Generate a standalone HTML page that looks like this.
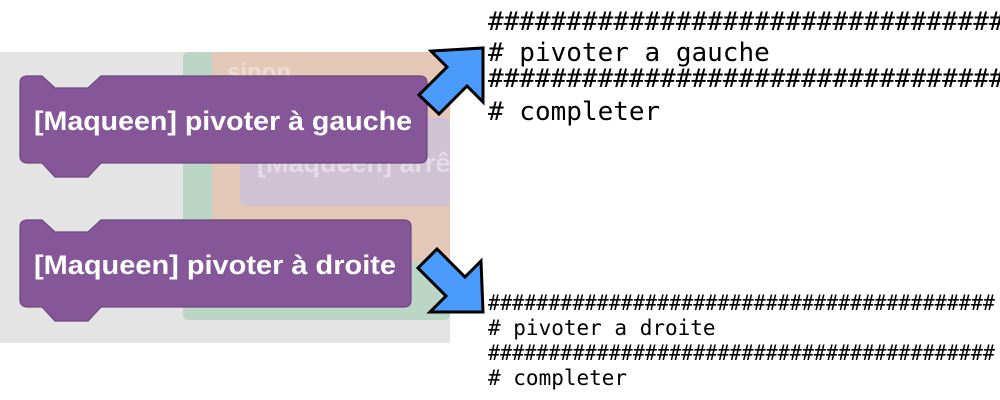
<!DOCTYPE html>
<html><head><meta charset="utf-8"><style>
html,body{margin:0;padding:0;background:#fff;width:1000px;height:400px;overflow:hidden}
svg{display:block}
.b{font-family:"Liberation Sans",sans-serif;font-weight:bold;fill:#fff;font-size:27px}
.m{font-family:"DejaVu Sans Mono","Liberation Mono",monospace;fill:#000}
</style></head><body>
<svg width="1000" height="400" viewBox="0 0 1000 400" xmlns="http://www.w3.org/2000/svg">
<rect x="0" y="52" width="450" height="291" fill="#e4e4e4"/>
<rect x="183" y="52" width="267" height="268" rx="5" fill="#bcd6c6"/>
<rect x="212" y="52" width="238" height="210" fill="#e3c8b8"/>
<text x="227" y="80" font-family="Liberation Sans,sans-serif" font-weight="bold" font-size="24" fill="#ecdcd2">sinon</text>
<rect x="240" y="118" width="210" height="88" rx="5" fill="#cfc2d3"/>
<text x="257" y="172" font-family="Liberation Sans,sans-serif" font-weight="bold" font-size="27" fill="#e4dbe6">[Maqueen] arrê</text>
<path d="M28 76 H42 L55 88 H88 L101 76 H420 Q427 76 427 83 V156 Q427 163 420 163 H101 L88 177 H55 L42 163 H28 Q20 163 20 156 V83 Q20 76 28 76 Z" fill="#855799" stroke="#6e4680" stroke-width="1.2"/>
<text class="b" x="34" y="130" textLength="378" lengthAdjust="spacingAndGlyphs">[Maqueen] pivoter à gauche</text>
<path d="M28 220 H42 L55 232 H88 L101 220 H404 Q411 220 411 227 V300 Q411 307 404 307 H101 L88 321 H55 L42 307 H28 Q20 307 20 300 V227 Q20 220 28 220 Z" fill="#855799" stroke="#6e4680" stroke-width="1.2"/>
<text class="b" x="34" y="274" textLength="362" lengthAdjust="spacingAndGlyphs">[Maqueen] pivoter à droite</text>
<polygon points="483,48 483,102 467,86 439,114 419,95 447,67 431,51" fill="#4a9bfc" stroke="#000" stroke-width="3"/>
<polygon points="483,312 430,312 446,296 418,268 437,249 465,277 481,261" fill="#4a9bfc" stroke="#000" stroke-width="3"/>
<g class="m" font-size="26">
<text x="488" y="30">###################################</text>
<text x="488" y="61"># pivoter a gauche</text>
<text x="488" y="87">###################################</text>
<text x="488" y="120"># completer</text>
</g>
<g class="m" font-size="21">
<text x="488" y="310" textLength="507" lengthAdjust="spacingAndGlyphs">##########################################</text>
<text x="488" y="335"># pivoter a droite</text>
<text x="488" y="360" textLength="507" lengthAdjust="spacingAndGlyphs">##########################################</text>
<text x="488" y="385"># completer</text>
</g>
</svg>
</body></html>
